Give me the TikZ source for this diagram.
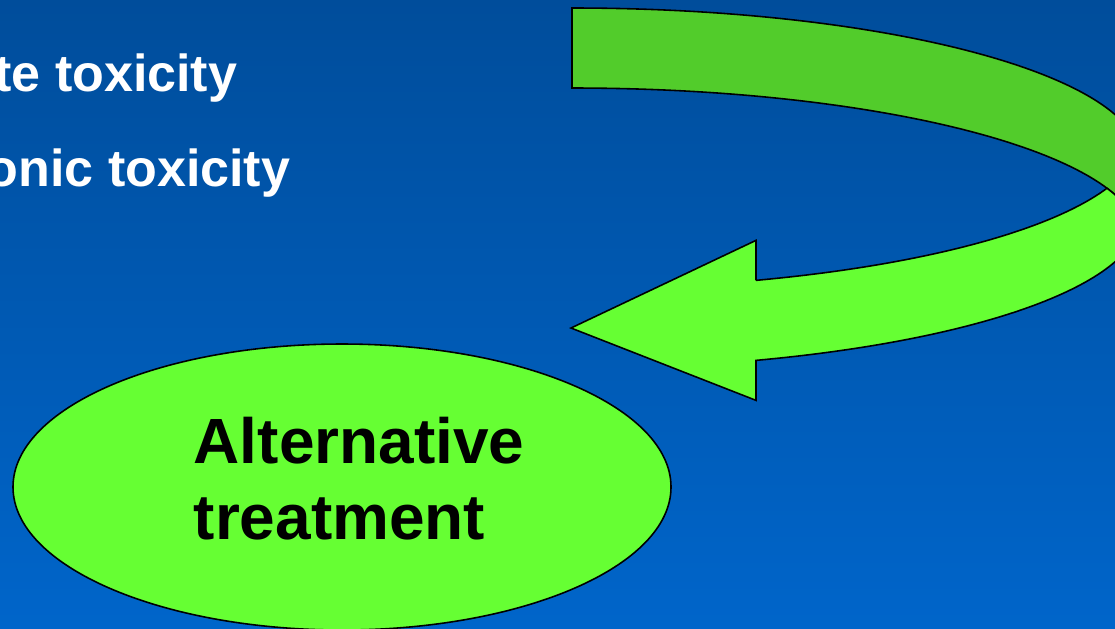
\documentclass[tikz,border=0pt]{standalone}
\usepackage{fontspec}
\setmainfont{Liberation Sans}
\usetikzlibrary{shapes.geometric,calc}

\definecolor{slidetop}{RGB}{0,77,155}
\definecolor{slidebottom}{RGB}{0,101,202}
\definecolor{bandback}{RGB}{82,204,43}
\definecolor{bandfront}{RGB}{102,255,51}

\begin{document}
\begin{tikzpicture}[
    line width=0.45pt,
    toxtext/.style={text=white, inner sep=0pt, font=\bfseries\fontsize{14.8}{17.8}\selectfont},
    backface/.style={draw=black, fill=bandback, x radius=5.68, y radius=1.51},
    frontface/.style={draw=black, fill=bandfront, x radius=5.68, y radius=1.51},
    bubble/.style={ellipse, draw=black, fill=bandfront, minimum width=6.58cm, minimum height=2.86cm, inner sep=0pt},
    bubbletext/.style={align=left, inner sep=0pt, font=\bfseries\fontsize{18.2}{21.7}\selectfont}
]

    \shade[top color=slidetop, bottom color=slidebottom] (0,0) rectangle (11.15,6.28);
    \useasboundingbox (0,0) rectangle (11.15,6.28);

    \node[toxtext, anchor=base east] (acute) at (2.38,5.37) {te toxicity};
    \node[toxtext, anchor=base east] (chronic) at (2.91,4.42) {onic toxicity};

    % centres of the four edges of the bent band
    \coordinate (uo) at (5.72,4.69);
    \coordinate (ui) at (5.72,3.89);
    \coordinate (li) at (5.72,4.905);
    \coordinate (lo) at (5.72,4.105);
    \coordinate (cusp) at ($(ui)+(4.08:5.68 and 1.51)$);
    \coordinate (basein) at ($(li)+(-71.1:5.68 and 1.51)$);
    \coordinate (baseout) at ($(lo)+(-71.1:5.68 and 1.51)$);
    \coordinate (tip) at (5.71,3.00);

    \draw[backface] ($(uo)+(0,1.51)$) arc[start angle=90, end angle=0] -- (cusp)
        arc[start angle=4.08, end angle=90] -- cycle;

    \draw[frontface] (basein) -- ++(0,0.40) -- (tip) -- ($(baseout)+(0,-0.40)$) -- (baseout)
        arc[start angle=-71.1, end angle=-4.08]
        arc[start angle=4.08, end angle=19.64]
        arc[start angle=-19.64, end angle=-71.1] -- cycle;

    \node[bubble] (treat) at (3.42,1.41) {};
    \node[bubbletext, anchor=north west] (treattext) at (1.93,2.12) {Alternative\\treatment};

\end{tikzpicture}
\end{document}
